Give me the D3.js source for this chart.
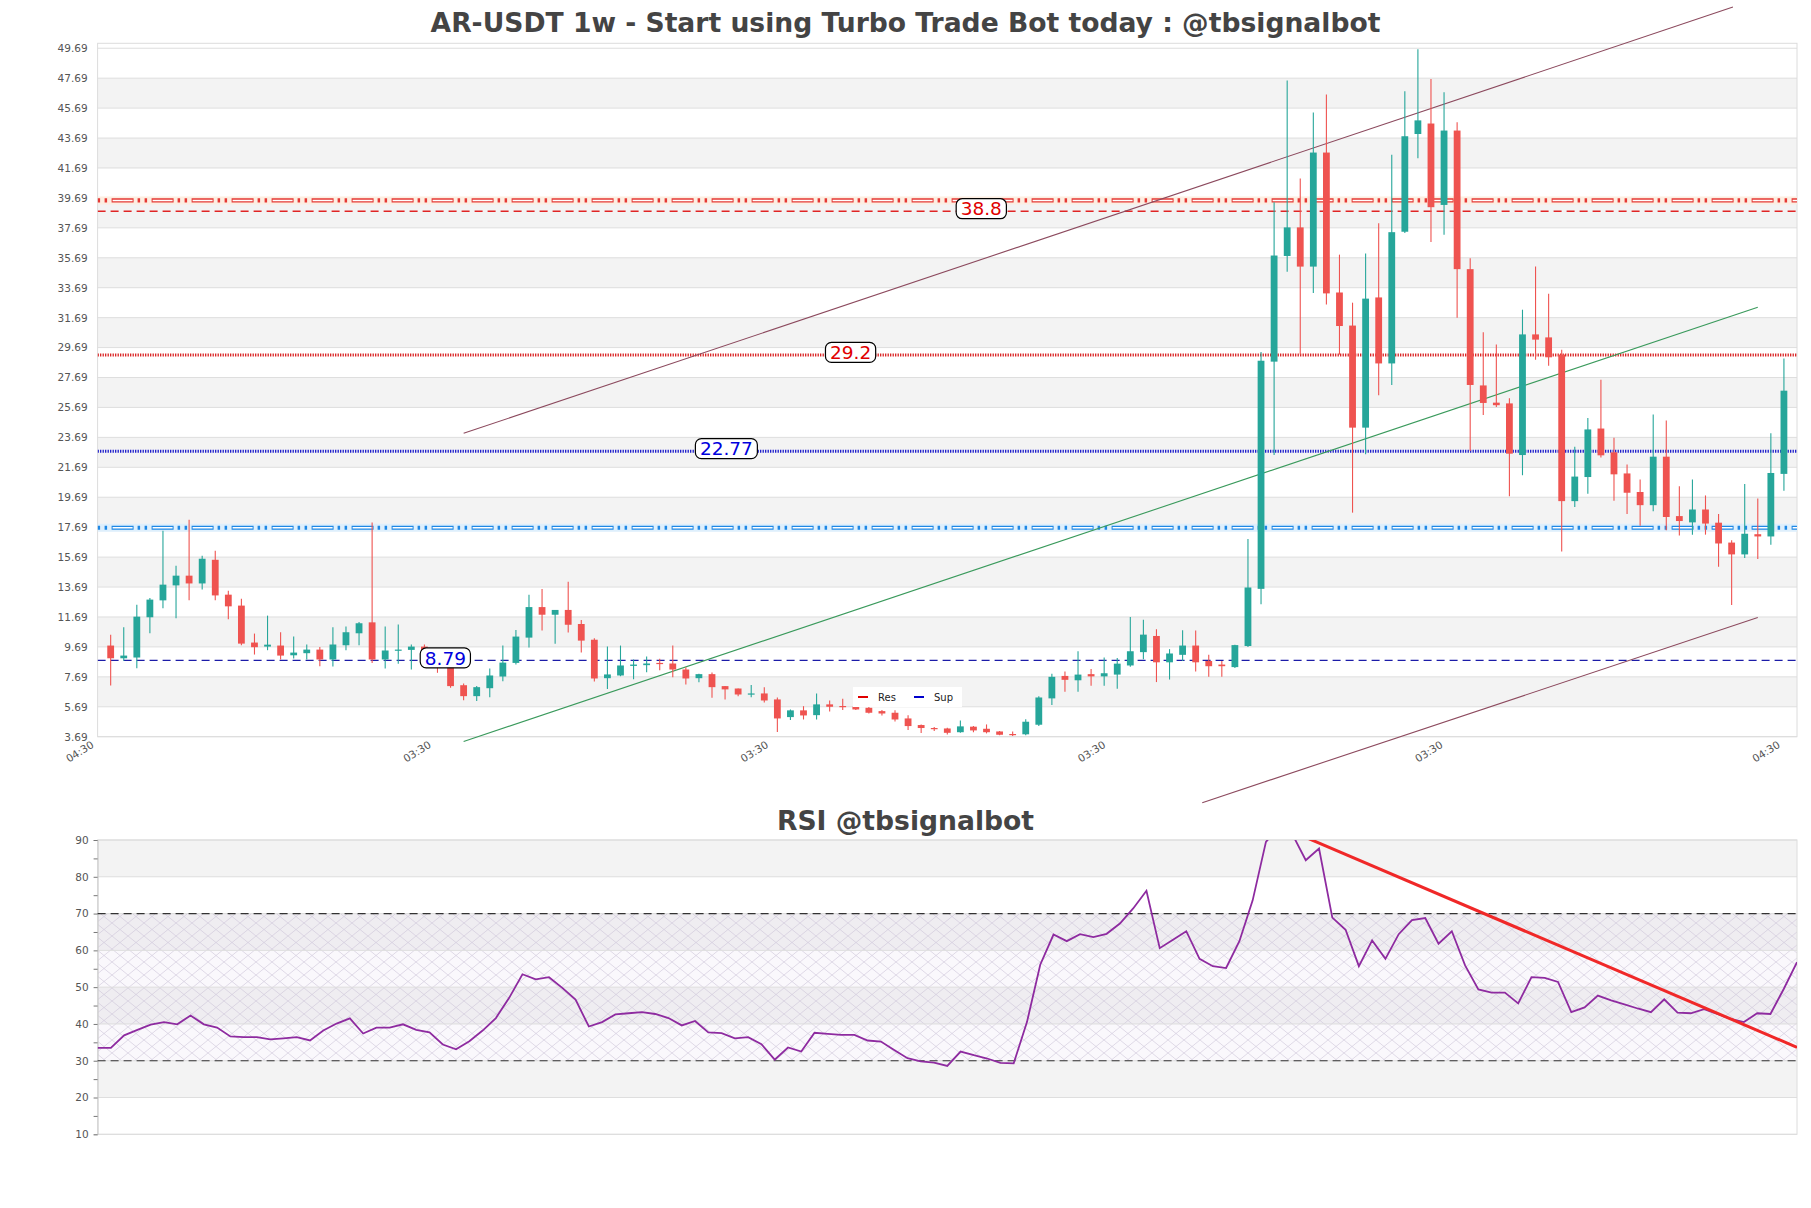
<!DOCTYPE html>
<meta charset="utf-8">
<style>
  body { margin: 0; background: #fff; }
  text { font-family: "DejaVu Sans", sans-serif; }
  .tick-label { font-size: 10.5px; fill: #555; }
  .title { font-size: 26.6px; font-weight: bold; fill: #444; }
</style>
<script src="https://d3js.org/d3.v7.min.js"></script>
<div id="chart"></div>
<script>
  // weekly candles
  var opens = [9.78, 8.93, 8.98, 11.67, 12.8, 13.8, 14.45, 13.93, 15.51, 13.18, 12.45, 9.98, 9.71, 9.78, 9.13, 9.27, 9.51, 8.85, 9.8, 10.6,
    11.33, 8.85, 9.43, 9.49, 9.71, 8.95, 8.4, 7.13, 6.4, 6.93, 7.71, 8.62, 10.31, 12.35, 11.84, 12.16, 11.22, 10.17, 7.6, 7.78,
    8.42, 8.47, 8.62, 8.58, 8.18, 7.6, 7.87, 7.07, 6.91, 6.51, 6.58, 6.18, 5.0, 5.45, 5.13, 5.85, 5.74, 5.69, 5.62, 5.4,
    5.29, 4.91, 4.47, 4.27, 4.24, 3.99, 4.36, 4.22, 4.04, 3.87, 3.85, 4.49, 6.25, 7.75, 7.46, 7.87, 7.72, 7.84, 8.45, 9.34,
    10.42, 8.66, 9.16, 9.78, 8.75, 8.51, 8.34, 9.75, 13.57, 28.75, 35.81, 37.72, 35.1, 42.72, 33.37, 31.16, 24.34, 33.04, 28.63, 37.43,
    43.96, 44.66, 39.22, 44.19, 34.93, 27.16, 26.01, 25.96, 22.51, 30.57, 30.37, 29.22, 19.43, 21.04, 24.28, 22.69, 21.28, 20.04, 19.16, 22.4,
    18.43, 18.01, 18.87, 17.99, 16.66, 15.87, 17.22, 17.07, 21.25];
  var highs = [10.51, 11.0, 12.51, 12.96, 17.45, 15.11, 18.18, 15.78, 16.11, 13.45, 12.91, 10.58, 11.78, 10.67, 10.38, 9.85, 9.69, 11.0, 11.05, 11.36,
    18.0, 11.05, 11.18, 9.85, 9.85, 9.1, 8.5, 7.24, 7.07, 8.25, 9.78, 10.82, 13.18, 13.56, 12.16, 14.04, 11.49, 10.26, 9.71, 9.78,
    8.85, 9.05, 8.9, 9.78, 8.33, 7.89, 7.98, 7.07, 6.91, 7.14, 7.0, 6.31, 5.51, 5.73, 6.58, 6.11, 6.22, 5.85, 5.73, 5.47,
    5.45, 5.13, 4.51, 4.33, 4.29, 4.78, 4.4, 4.51, 4.07, 4.04, 4.85, 6.4, 7.9, 8.04, 9.4, 8.22, 8.98, 8.95, 11.69, 11.51,
    10.87, 9.54, 10.81, 10.78, 9.16, 8.75, 9.84, 16.9, 29.4, 39.4, 47.54, 40.98, 45.4, 46.6, 35.9, 32.69, 35.98, 37.99, 42.57, 46.81,
    49.63, 47.63, 46.75, 44.75, 35.66, 30.72, 29.9, 26.31, 32.22, 35.1, 33.28, 29.54, 23.07, 24.99, 27.54, 23.66, 21.87, 20.87, 25.22, 24.81,
    20.43, 20.87, 19.81, 18.57, 16.81, 20.57, 19.6, 23.96, 28.96];
  var lows = [7.11, 8.76, 8.27, 10.6, 12.27, 11.6, 12.8, 13.53, 12.8, 11.53, 9.8, 9.18, 9.47, 8.85, 8.91, 8.85, 8.4, 8.38, 9.47, 9.8,
    8.62, 8.25, 8.56, 8.18, 8.8, 7.96, 6.96, 6.13, 6.07, 6.33, 7.4, 8.51, 9.65, 10.78, 9.9, 10.65, 9.31, 7.38, 6.87, 7.73,
    7.53, 8.0, 8.13, 7.67, 7.18, 7.33, 6.29, 6.18, 6.4, 6.33, 5.98, 4.0, 4.8, 4.84, 4.84, 5.38, 5.47, 5.47, 5.24, 5.11,
    4.71, 4.13, 3.93, 4.07, 3.84, 3.95, 3.99, 3.91, 3.78, 3.73, 3.78, 4.4, 5.81, 6.69, 6.69, 7.1, 7.1, 6.9, 8.37, 8.87,
    7.34, 7.51, 8.75, 8.04, 7.69, 7.69, 8.28, 9.69, 12.54, 22.51, 34.75, 29.22, 33.34, 32.57, 29.22, 18.66, 22.57, 26.51, 27.19, 37.34,
    42.34, 36.75, 37.22, 31.69, 22.78, 25.19, 25.72, 19.75, 21.16, 28.87, 28.48, 16.07, 19.04, 19.93, 22.34, 19.46, 18.57, 17.78, 18.75, 17.49,
    17.13, 17.19, 17.19, 15.04, 12.49, 15.63, 15.57, 16.51, 20.13];
  var closes = [8.93, 9.11, 11.71, 12.85, 13.85, 14.45, 13.93, 15.58, 13.13, 12.4, 9.91, 9.67, 9.84, 9.11, 9.31, 9.51, 8.85, 9.85, 10.67, 11.27,
    8.85, 9.45, 9.51, 9.71, 8.95, 8.4, 7.07, 6.4, 7.0, 7.78, 8.64, 10.38, 12.35, 11.84, 12.16, 11.17, 10.11, 7.58, 7.85, 8.45,
    8.51, 8.58, 8.56, 8.18, 7.58, 7.87, 7.0, 6.85, 6.51, 6.58, 6.11, 4.91, 5.45, 5.11, 5.85, 5.69, 5.69, 5.51, 5.29, 5.24,
    4.84, 4.4, 4.27, 4.22, 3.95, 4.38, 4.11, 3.99, 3.82, 3.82, 4.69, 6.31, 7.69, 7.49, 7.84, 7.72, 7.93, 8.57, 9.4, 10.51,
    8.66, 9.25, 9.78, 8.66, 8.4, 8.4, 9.81, 13.66, 28.81, 35.84, 37.72, 35.1, 42.72, 33.31, 31.13, 24.34, 32.96, 28.63, 37.4, 43.81,
    44.87, 39.07, 44.19, 34.93, 27.19, 25.99, 25.84, 22.6, 30.57, 30.22, 29.04, 19.43, 21.07, 24.22, 22.49, 21.22, 19.99, 19.16, 22.4, 18.37,
    18.1, 18.87, 17.93, 16.6, 15.87, 17.25, 17.07, 21.31, 26.81];

  var rsiValues = [33.5, 33.5, 36.9, 38.4, 39.8, 40.5, 39.9, 42.3, 39.9, 39.0, 36.6, 36.4, 36.4, 35.8, 36.1, 36.4, 35.5, 38.2, 40.1, 41.5,
    37.4, 39.0, 39.0, 39.9, 38.4, 37.7, 34.4, 33.1, 35.3, 38.2, 41.6, 47.1, 53.5, 52.1, 52.7, 49.8, 46.6, 39.3, 40.5, 42.6,
    42.9, 43.2, 42.7, 41.6, 39.6, 40.8, 37.7, 37.5, 36.1, 36.4, 34.5, 30.3, 33.6, 32.5, 37.6, 37.3, 37.0, 37.0, 35.5, 35.2,
    32.9, 30.7, 29.8, 29.5, 28.6, 32.5, 31.5, 30.6, 29.4, 29.3, 40.5, 56.1, 64.3, 62.5, 64.4, 63.6, 64.5, 67.3, 71.4, 76.2,
    60.6, 62.9, 65.2, 57.7, 55.7, 55.2, 62.5, 73.6, 89.5, 93.5, 91.5, 84.5, 87.7, 68.9, 65.6, 55.7, 62.7, 57.7, 64.4, 68.2,
    68.8, 61.8, 65.2, 55.9, 49.4, 48.5, 48.5, 45.6, 52.7, 52.5, 51.4, 43.2, 44.5, 47.7, 46.4, 45.3, 44.2, 43.2, 46.7, 43.1,
    42.9, 44.0, 42.7, 41.4, 40.5, 42.9, 42.7, 49.5, 56.8];

  var priceTicks = [3.69, 5.69, 7.69, 9.69, 11.69, 13.69, 15.69, 17.69, 19.69, 21.69, 23.69, 25.69, 27.69, 29.69,
    31.69, 33.69, 35.69, 37.69, 39.69, 41.69, 43.69, 45.69, 47.69, 49.69];
  var rsiTicks = [10, 20, 30, 40, 50, 60, 70, 80, 90];
  var xTickLabels = ["04:30", "03:30", "03:30", "03:30", "03:30", "04:30"];

  // support / resistance
  var zoneLevels = [39.52, 17.65];      // red zone, blue zone
  var dashedLevels = [38.8, 8.79];      // res, sup
  var dottedLevels = [29.2, 22.77];     // res, sup
  var levelLabels = ["38.8", "29.2", "22.77", "8.79"];

  // trend lines as [candle index, price]
  var upperChannel = [[27, 23.96], [124.1, 52.44]];
  var lowerChannel = [[83.5, -0.72], [126, 11.65]];
  var supportTrend = [[27, 3.37], [126, 32.39]];
  var rsiTrend = [[90, 92.25], [128, 33.65]];

  var W = 1811, H = 1208;
  var left = 97.6, right = 1797;
  var mainTop = 43.3, mainBottom = 736.7;
  var rsiTop = 840, rsiBottom = 1134.3;
  var up = "#26a69a", down = "#ef5350";

  var x = d3.scaleLinear().domain([-1, opens.length]).range([left, right]);
  var y = d3.scaleLinear().domain([3.69, 50.02]).range([mainBottom, mainTop]);
  var xr = d3.scaleLinear().domain([0, rsiValues.length - 1]).range([left, right]);
  var yr = d3.scaleLinear().domain([10, 90]).range([rsiBottom, rsiTop]);

  var svg = d3.select("#chart").append("svg")
    .attr("width", W)
    .attr("height", H);

  var defs = svg.append("defs");
  defs.append("clipPath").attr("id", "clipMain").append("rect")
    .attr("x", left).attr("y", mainTop).attr("width", right - left).attr("height", mainBottom - mainTop);
  defs.append("clipPath").attr("id", "clipRsi").append("rect")
    .attr("x", left).attr("y", rsiTop).attr("width", right - left).attr("height", rsiBottom - rsiTop);

  var hatch = defs.append("pattern")
    .attr("id", "hatch")
    .attr("patternUnits", "userSpaceOnUse")
    .attr("width", 16).attr("height", 13);
  hatch.append("rect").attr("width", 16).attr("height", 13).attr("fill", "rgba(190,160,215,0.08)");
  hatch.append("path")
    .attr("d", "M0,0L16,13M16,0L0,13")
    .attr("stroke", "#cdc4d8")
    .attr("stroke-width", 0.6);

  // ---- titles
  svg.append("text").attr("class", "title")
    .attr("x", W / 2).attr("y", 32)
    .attr("text-anchor", "middle")
    .text("AR-USDT 1w - Start using Turbo Trade Bot today : @tbsignalbot");

  svg.append("text").attr("class", "title")
    .attr("x", W / 2).attr("y", 830)
    .attr("text-anchor", "middle")
    .text("RSI @tbsignalbot");

  // ---- main panel background
  var main = svg.append("g");

  main.selectAll(".band")
    .data(priceTicks.slice(0, -1).filter(function(d, i) { return i % 2 === 1; }))
    .enter().append("rect")
      .attr("x", left)
      .attr("width", right - left)
      .attr("y", function(d) { return y(d + 2); })
      .attr("height", function(d) { return y(d) - y(d + 2); })
      .attr("fill", "#f3f3f3");

  main.selectAll(".grid")
    .data(priceTicks)
    .enter().append("line")
      .attr("x1", left).attr("x2", right)
      .attr("y1", function(d) { return y(d); })
      .attr("y2", function(d) { return y(d); })
      .attr("stroke", "#dedede");

  main.append("rect")
    .attr("x", left).attr("y", mainTop)
    .attr("width", right - left).attr("height", mainBottom - mainTop)
    .attr("fill", "none").attr("stroke", "#dcdcdc");

  var yAxis = main.append("g")
    .attr("transform", "translate(" + left + ",0)")
    .call(d3.axisLeft(y).tickValues(priceTicks).tickSize(0).tickPadding(10).tickFormat(d3.format(".2f")));
  yAxis.select(".domain").remove();
  yAxis.selectAll("text").attr("class", "tick-label").attr("font-size", null).attr("font-family", null).attr("fill", null);

  var xTicks = xTickLabels.map(function(d, i) { return -1 + i * opens.length / (xTickLabels.length - 1); });
  main.selectAll(".xlab")
    .data(xTicks)
    .enter().append("text")
      .attr("class", "tick-label")
      .attr("text-anchor", "end")
      .attr("transform", function(d) { return "translate(" + (x(d) - 3) + "," + (mainBottom + 10) + ") rotate(-32)"; })
      .text(function(d, i) { return xTickLabels[i]; });

  // ---- levels
  var levels = main.append("g").attr("clip-path", "url(#clipMain)");

  var zoneColor = ["#e53935", "#1e88e5"];
  var zoneBand = ["#fdeee2", "#deeffc"];
  zoneLevels.forEach(function(v, i) {
    levels.append("rect")
      .attr("x", left).attr("width", right - left)
      .attr("y", y(v) - 4).attr("height", 8)
      .attr("fill", zoneBand[i]);
    levels.append("line")
      .attr("x1", left).attr("x2", right)
      .attr("y1", y(v)).attr("y2", y(v))
      .attr("stroke", zoneColor[i]).attr("stroke-width", 4.2)
      .attr("stroke-dasharray", "2.5,4.5,2.5,4.5,22,4");
    levels.append("line")
      .attr("x1", left).attr("x2", right)
      .attr("y1", y(v)).attr("y2", y(v))
      .attr("stroke", "#fff").attr("stroke-width", 1.6)
      .attr("stroke-dasharray", "0,15,20,5");
  });

  var lineColor = ["#e02424", "#1c1ca8"];
  dashedLevels.forEach(function(v, i) {
    levels.append("line")
      .attr("x1", left).attr("x2", right)
      .attr("y1", y(v)).attr("y2", y(v))
      .attr("stroke", lineColor[i]).attr("stroke-width", 1.4)
      .attr("stroke-dasharray", "8,5");
  });

  var dotColor = ["#d81010", "#0a0ac8"];
  dottedLevels.forEach(function(v, i) {
    levels.append("line")
      .attr("x1", left).attr("x2", right)
      .attr("y1", y(v)).attr("y2", y(v))
      .attr("stroke", dotColor[i]).attr("stroke-width", 3)
      .attr("stroke-dasharray", "1.2,1.3");
  });

  // ---- trend lines (not clipped, they run past the frame)
  var tl = d3.line()
    .x(function(d) { return x(d[0]); })
    .y(function(d) { return y(d[1]); });

  main.append("path").datum(upperChannel).attr("d", tl)
    .attr("fill", "none").attr("stroke", "#8c4a5e").attr("stroke-width", 1.1);
  main.append("path").datum(lowerChannel).attr("d", tl)
    .attr("fill", "none").attr("stroke", "#8c4a5e").attr("stroke-width", 1.1);
  main.append("path").datum(supportTrend).attr("d", tl)
    .attr("fill", "none").attr("stroke", "#3a9a5c").attr("stroke-width", 1.1);

  // ---- candles
  var candles = main.append("g").selectAll("g")
    .data(opens.map(function(o, i) { return { i: i, o: o, h: highs[i], l: lows[i], c: closes[i] }; }))
    .enter().append("g");

  candles.append("line")
    .attr("x1", function(d) { return x(d.i); })
    .attr("x2", function(d) { return x(d.i); })
    .attr("y1", function(d) { return y(d.h); })
    .attr("y2", function(d) { return y(d.l); })
    .attr("stroke", function(d) { return d.c >= d.o ? up : down; })
    .attr("stroke-width", 1.1);

  candles.append("rect")
    .attr("x", function(d) { return x(d.i) - 3.4; })
    .attr("width", 6.8)
    .attr("y", function(d) { return y(Math.max(d.o, d.c)); })
    .attr("height", function(d) { return Math.max(1.2, Math.abs(y(d.o) - y(d.c))); })
    .attr("fill", function(d) { return d.c >= d.o ? up : down; });

  // ---- level labels
  var labelAt = [66.6, 56.6, 47.1, 25.6];
  var labelVal = [dashedLevels[0], dottedLevels[0], dottedLevels[1], dashedLevels[1]];
  var labelColor = ["#e00000", "#e00000", "#0000dd", "#0000dd"];
  levelLabels.forEach(function(t, i) {
    var g = main.append("g").attr("transform", "translate(" + x(labelAt[i]) + "," + (y(labelVal[i]) - 2.5) + ")");
    var txt = g.append("text")
      .attr("text-anchor", "middle")
      .attr("dy", "0.36em")
      .style("font-size", "18.5px")
      .attr("fill", labelColor[i])
      .text(t);
    var w = txt.node().getComputedTextLength() + 9;
    g.insert("rect", "text")
      .attr("x", -w / 2).attr("y", -10)
      .attr("width", w).attr("height", 20)
      .attr("rx", 6)
      .attr("fill", "#fff").attr("stroke", "#000").attr("stroke-width", 1.2);
  });

  // ---- legend
  var legend = main.append("g").attr("transform", "translate(853,687)");
  legend.append("rect").attr("width", 109).attr("height", 20).attr("fill", "#fff");
  [["Res", "#e00000"], ["Sup", "#0000cc"]].forEach(function(d, i) {
    legend.append("line")
      .attr("x1", 5 + i * 56).attr("x2", 15 + i * 56)
      .attr("y1", 10).attr("y2", 10)
      .attr("stroke", d[1]).attr("stroke-width", 2);
    legend.append("text")
      .attr("x", 25 + i * 56).attr("y", 13.5)
      .style("font-size", "10px").attr("fill", "#222")
      .text(d[0]);
  });

  // ---- RSI panel
  var rsi = svg.append("g");

  rsi.selectAll(".band")
    .data(rsiTicks.slice(0, -1).filter(function(d, i) { return i % 2 === 1; }))
    .enter().append("rect")
      .attr("x", left).attr("width", right - left)
      .attr("y", function(d) { return yr(d + 10); })
      .attr("height", function(d) { return yr(d) - yr(d + 10); })
      .attr("fill", "#f3f3f3");

  rsi.append("rect")
    .attr("x", left).attr("width", right - left)
    .attr("y", yr(70)).attr("height", yr(30) - yr(70))
    .attr("fill", "url(#hatch)");

  rsi.selectAll(".grid")
    .data(rsiTicks)
    .enter().append("line")
      .attr("x1", left).attr("x2", right)
      .attr("y1", function(d) { return yr(d); })
      .attr("y2", function(d) { return yr(d); })
      .attr("stroke", "#dedede");

  rsi.append("rect")
    .attr("x", left).attr("y", rsiTop)
    .attr("width", right - left).attr("height", rsiBottom - rsiTop)
    .attr("fill", "none").attr("stroke", "#dcdcdc");

  var rAxis = rsi.append("g")
    .attr("transform", "translate(" + left + ",0)")
    .call(d3.axisLeft(yr).tickValues(d3.range(10, 91, 5)).tickSize(4).tickPadding(5)
      .tickFormat(function(d) { return d % 10 === 0 ? d : ""; }));
  rAxis.select(".domain").attr("stroke", "#ccc");
  rAxis.selectAll(".tick line").attr("stroke", "#777");
  rAxis.selectAll("text").attr("class", "tick-label").attr("font-size", null).attr("font-family", null).attr("fill", null);

  [70, 30].forEach(function(v) {
    rsi.append("line")
      .attr("x1", left).attr("x2", right)
      .attr("y1", yr(v)).attr("y2", yr(v))
      .attr("stroke", "#333").attr("stroke-width", 1.1)
      .attr("stroke-dasharray", "8,5");
  });

  var rsiLayer = rsi.append("g").attr("clip-path", "url(#clipRsi)");

  rsiLayer.append("path")
    .datum(rsiValues)
    .attr("d", d3.line()
      .x(function(d, i) { return xr(i); })
      .y(function(d) { return yr(d); }))
    .attr("fill", "none")
    .attr("stroke", "#8e2ba0")
    .attr("stroke-width", 1.8);

  rsiLayer.append("path")
    .datum(rsiTrend)
    .attr("d", d3.line()
      .x(function(d) { return xr(d[0]); })
      .y(function(d) { return yr(d[1]); }))
    .attr("fill", "none")
    .attr("stroke", "#f02828")
    .attr("stroke-width", 3);
</script>
